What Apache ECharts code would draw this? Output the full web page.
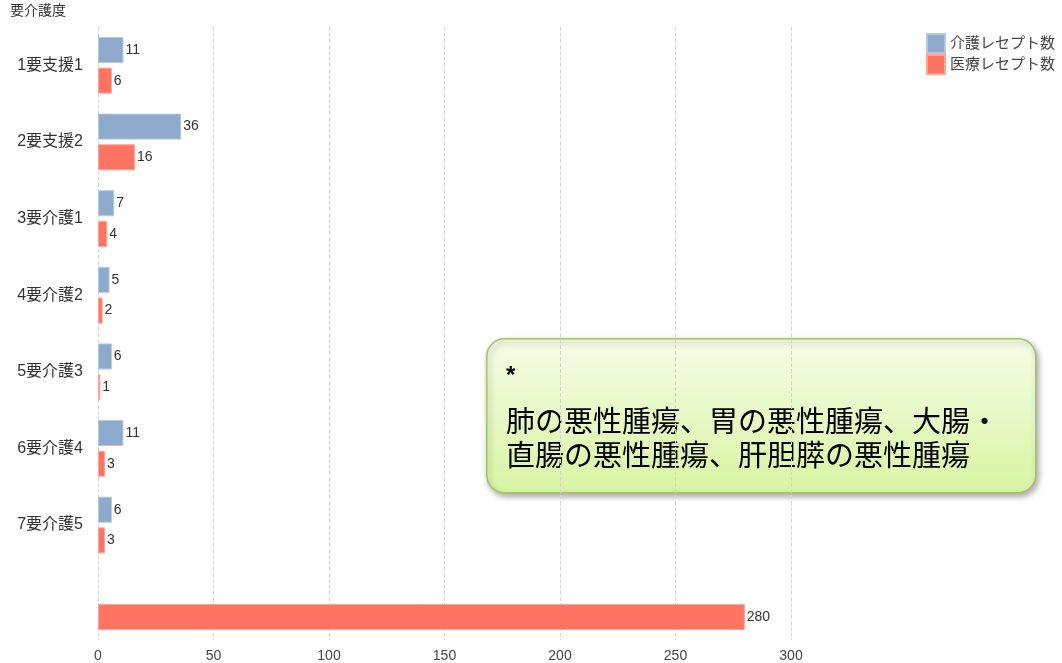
<!DOCTYPE html>
<html><head><meta charset="utf-8">
<script src="https://cdn.jsdelivr.net/npm/echarts@6/dist/echarts.min.js"></script>
<style>html,body{margin:0;padding:0;background:#fff}#c{width:1062px;height:663px}</style>
</head><body><div id="c"></div>
<script>
const categories = ['1要支援1','2要支援2','3要介護1','4要介護2','5要介護3','6要介護4','7要介護5',''];
const kaigoCounts = [11, 36, 7, 5, 6, 11, 6, null];
const iryoCounts = [6, 16, 4, 2, 1, 3, 3, 280];
const xTicks = [0, 50, 100, 150, 200, 250, 300];
const seriesNames = ['介護レセプト数', '医療レセプト数'];
const noteLines = ['*', '肺の悪性腫瘍、胃の悪性腫瘍、大腸・', '直腸の悪性腫瘍、肝胆膵の悪性腫瘍'];

const FONT = "'Liberation Sans Narrow','Liberation Sans','Noto Sans CJK JP',sans-serif";
const chart = echarts.init(document.getElementById('c'));
const lbl = {show: true, position: 'right', distance: 2, color: '#333', fontSize: 14, fontFamily: FONT};
chart.setOption({
  animation: false,
  textStyle: {fontFamily: FONT},
  legend: {
    orient: 'vertical', left: 926, top: 33, padding: 0, itemGap: 0, itemWidth: 18, itemHeight: 19,
    textStyle: {color: '#444', fontSize: 15, fontFamily: FONT}, icon: 'rect',
    data: seriesNames
  },
  grid: {left: 98, right: 271, top: 27, bottom: 23, containLabel: false},
  xAxis: {
    type: 'value', min: xTicks[0], max: xTicks[xTicks.length-1], interval: 50,
    axisLine: {show: false}, axisTick: {show: false},
    axisLabel: {color: '#444', fontSize: 14, margin: 9, fontFamily: FONT},
    splitLine: {show: true, lineStyle: {type: 'dashed', color: '#d4d4d4'}}
  },
  yAxis: {
    type: 'category', inverse: true, data: categories,
    name: '要介護度', nameLocation: 'start', nameGap: 9,
    nameTextStyle: {align: 'left', padding: [0, 0, 0, -88], color: '#333', fontSize: 14, fontFamily: FONT},
    axisLine: {show: false}, axisTick: {show: false},
    axisLabel: {color: '#333', fontSize: 16, margin: 15, fontFamily: FONT},
    splitLine: {show: false}
  },
  series: [
    {name: seriesNames[0], type: 'bar', data: kaigoCounts, barWidth: 26, barGap: '18%',
     itemStyle: {color: '#8DA9CB', borderColor: '#b5c8e0', borderWidth: 1}, label: lbl},
    {name: seriesNames[1], type: 'bar', data: iryoCounts, barWidth: 26, barGap: '18%',
     itemStyle: {color: '#FE7462', borderColor: '#ffa59a', borderWidth: 1}, label: lbl}
  ],
  graphic: [
    {type: 'rect', left: 486, top: 338, shape: {width: 549, height: 154, r: 18},
     style: {
       fill: new echarts.graphic.LinearGradient(0, 0, 0, 1, [{offset: 0, color: '#f6fce8'}, {offset: 1, color: '#d8f5a2'}]),
       stroke: '#a3c468', lineWidth: 1.5,
       shadowBlur: 6, shadowOffsetX: 2, shadowOffsetY: 3, shadowColor: 'rgba(0,0,0,0.35)'
     }},
    {type: 'text', left: 506, top: 364, style: {text: noteLines[0], fontSize: 24, fontWeight: 'bold', fill: '#000', fontFamily: "'Liberation Sans',sans-serif"}},
    {type: 'text', left: 506, top: 404, style: {text: noteLines[1] + '\n' + noteLines[2], fontSize: 29, lineHeight: 34, fill: '#000', fontFamily: "'Noto Sans CJK JP',sans-serif"}}
  ]
});
</script></body></html>
